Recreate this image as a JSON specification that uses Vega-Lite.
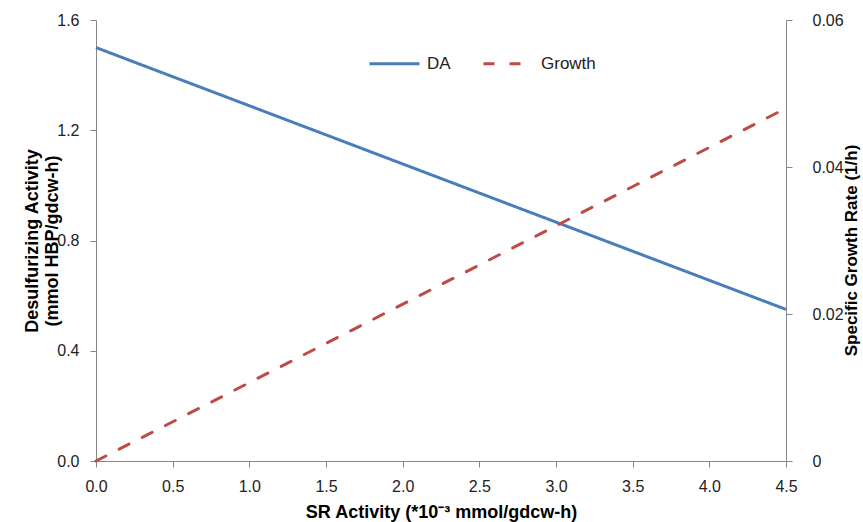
{
  "$schema": "https://vega.github.io/schema/vega-lite/v6.json",
  "width": 690,
  "height": 441,
  "autosize": {"type": "none"},
  "padding": {"left": 96, "top": 20, "right": 77, "bottom": 61},
  "background": "white",
  "config": {
    "view": {"stroke": null},
    "axis": {
      "grid": false,
      "labelFlush": false,
      "labelOverlap": false,
      "domainColor": "#868686",
      "tickColor": "#868686",
      "tickSize": 6,
      "labelFont": "Liberation Sans Narrow, Liberation Sans, sans-serif",
      "labelFontSize": 16,
      "labelColor": "#222222",
      "titleFont": "Liberation Sans",
      "titleFontSize": 18,
      "titleFontWeight": "bold",
      "titleColor": "#000000"
    }
  },
  "data": {
    "values": [
      {"sr": 0.0, "series": "DA", "value": 1.5},
      {"sr": 4.5, "series": "DA", "value": 0.55},
      {"sr": 0.0, "series": "Growth", "value": 0.0},
      {"sr": 4.5, "series": "Growth", "value": 0.048}
    ]
  },
  "encoding": {
    "x": {
      "field": "sr",
      "type": "quantitative",
      "scale": {"domain": [0, 4.5], "nice": false, "zero": false},
      "axis": {
        "values": [0, 0.5, 1, 1.5, 2, 2.5, 3, 3.5, 4, 4.5],
        "format": ".1f",
        "labelPadding": 11,
        "title": "SR Activity (*10⁻³ mmol/gdcw-h)",
        "titlePadding": 9
      }
    },
    "color": {
      "field": "series",
      "type": "nominal",
      "scale": {"domain": ["DA", "Growth"], "range": ["#4a7ebb", "#be4b48"]},
      "legend": {
        "title": null,
        "orient": "none",
        "direction": "horizontal",
        "legendX": 272,
        "legendY": 17,
        "symbolType": "stroke",
        "symbolSize": 2500,
        "symbolStrokeWidth": 3,
        "labelFont": "Liberation Sans",
        "labelFontSize": 17,
        "labelColor": "#222222",
        "labelOffset": 6,
        "columnPadding": 26
      }
    },
    "strokeDash": {
      "field": "series",
      "type": "nominal",
      "scale": {"domain": ["DA", "Growth"], "range": [[1, 0], [11, 15]]},
      "legend": {"title": null}
    }
  },
  "layer": [
    {
      "transform": [{"filter": "datum.series === 'DA'"}],
      "mark": {"type": "line", "strokeWidth": 3, "clip": false},
      "encoding": {
        "y": {
          "field": "value",
          "type": "quantitative",
          "scale": {"domain": [0, 1.6], "nice": false},
          "axis": {
            "values": [0, 0.4, 0.8, 1.2, 1.6],
            "format": ".1f",
            "labelPadding": 11,
            "title": ["Desulfurizing Activity", "(mmol HBP/gdcw-h)"],
            "titlePadding": -5
          }
        }
      }
    },
    {
      "transform": [{"filter": "datum.series === 'Growth'"}],
      "mark": {"type": "line", "strokeWidth": 3, "strokeCap": "round", "clip": false},
      "encoding": {
        "y": {
          "field": "value",
          "type": "quantitative",
          "scale": {"domain": [0, 0.06], "nice": false},
          "axis": {
            "orient": "right",
            "values": [0, 0.02, 0.04, 0.06],
            "format": ".2~f",
            "labelPadding": 20,
            "title": "Specific Growth Rate (1/h)",
            "titleFontSize": 17,
            "titleAngle": 270,
            "titleX": 65,
            "titleY": 230,
            "titleAlign": "center",
            "titleBaseline": "middle"
          }
        }
      }
    }
  ],
  "resolve": {"scale": {"y": "independent"}}
}
